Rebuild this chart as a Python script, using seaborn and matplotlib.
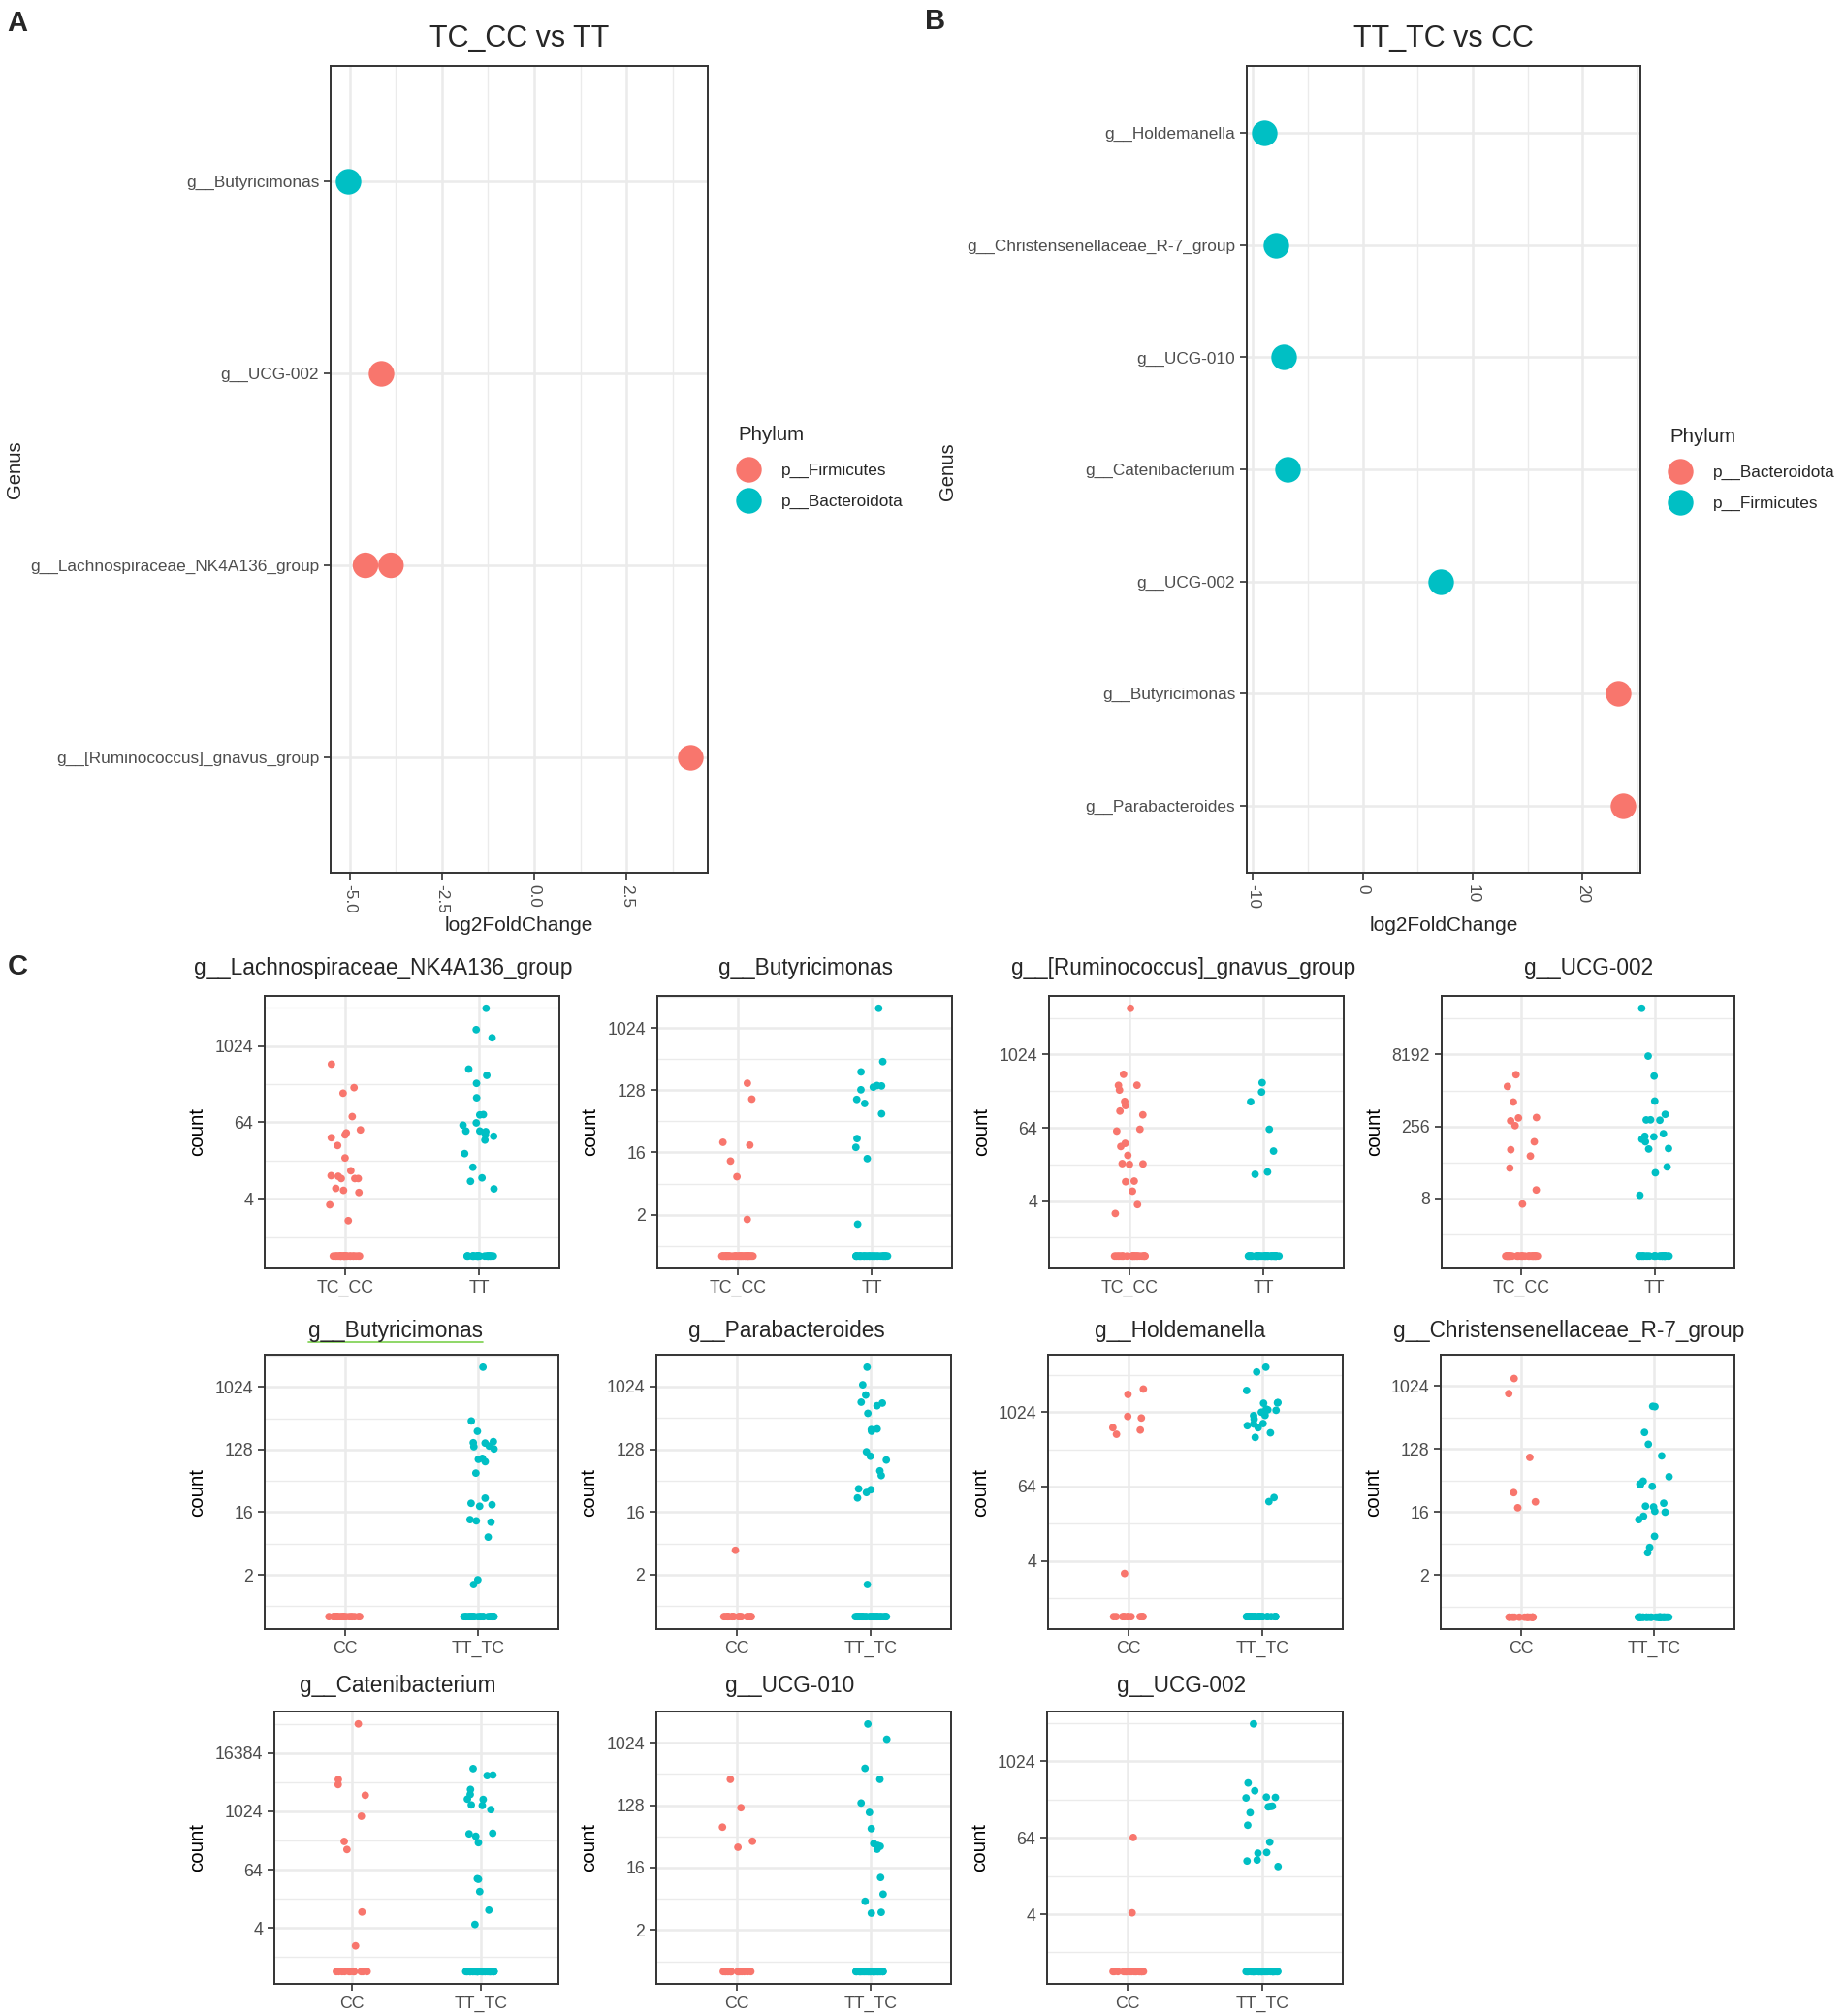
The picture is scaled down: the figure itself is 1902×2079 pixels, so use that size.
import numpy as np
import pandas as pd
import matplotlib
matplotlib.use('Agg')
import matplotlib.pyplot as plt
from matplotlib.lines import Line2D
import seaborn as sns

# ---------------- panel A / B : log2 fold change per genus
genus_a = ['g__Butyricimonas', 'g__UCG-002', 'g__Lachnospiraceae_NK4A136_group',
           'g__Lachnospiraceae_NK4A136_group', 'g__[Ruminococcus]_gnavus_group']
lfc_a = [-5.05, -4.15, -4.57, -3.88, 4.23]
phylum_a = ['p__Bacteroidota', 'p__Firmicutes', 'p__Firmicutes', 'p__Firmicutes', 'p__Firmicutes']
order_a = ['g__Butyricimonas', 'g__UCG-002', 'g__Lachnospiraceae_NK4A136_group',
           'g__[Ruminococcus]_gnavus_group']
legend_a = ['p__Firmicutes', 'p__Bacteroidota']
xticks_a = [-5.0, -2.5, 0.0, 2.5]
xticklabels_a = ['-5.0', '-2.5', '0.0', '2.5']

genus_b = ['g__Holdemanella', 'g__Christensenellaceae_R-7_group', 'g__UCG-010',
           'g__Catenibacterium', 'g__UCG-002', 'g__Butyricimonas', 'g__Parabacteroides']
lfc_b = [-8.94, -7.9, -7.2, -6.84, 7.1, 23.2, 23.64]
phylum_b = ['p__Firmicutes', 'p__Firmicutes', 'p__Firmicutes', 'p__Firmicutes',
            'p__Firmicutes', 'p__Bacteroidota', 'p__Bacteroidota']
legend_b = ['p__Bacteroidota', 'p__Firmicutes']
xticks_b = [-10, 0, 10, 20]
xticklabels_b = ['-10', '0', '10', '20']

# ---------------- panel C : normalised counts (non-zero samples), rest of group is 0
n_group = {'TC_CC': 45, 'TT': 45, 'CC': 20, 'TT_TC': 50}

lachno_tccc = [525, 224, 183, 78, 48, 43, 40, 36, 27, 17, 10.5, 7.8, 7.8, 8.7, 8.5, 7.8, 5.3, 4.9, 4.5, 2.7, 1.3]
lachno_tt = [4000, 1840, 1370, 440, 350, 262, 155, 84, 83, 62, 57, 46, 45, 46, 40, 38, 33, 20, 12, 8, 7, 5.2]

buty1_tccc = [162, 95, 22, 20, 11.5, 6.6, 1.2]
buty1_tt = [2000, 335, 237, 150, 148, 142, 130, 94, 82, 58, 25, 18.5, 12.5, 0.95]

rum_tccc = [5900, 484, 320, 318, 266, 173, 148, 120, 104, 60, 56, 35, 31, 22, 16, 15.5, 15.8, 7.8, 8, 5.3, 3, 2]
rum_tt = [352, 247, 171, 60, 26, 11.5, 10.5]

ucg1_tccc = [3100, 1760, 830, 393, 385, 335, 266, 122, 83, 61, 34, 11.5, 5.6]
ucg1_tt = [76000, 7600, 2900, 870, 458, 350, 345, 352, 180, 159, 155, 138, 122, 88, 86, 36, 27, 8.8]

buty2_cc = []
buty2_tttc = [1970, 330, 234, 166, 160, 158, 143, 140, 130, 95, 92, 85, 58, 25, 21, 20, 19, 12, 11.5, 11,
              6.5, 1.2, 0.95]

parab_cc = [4]
parab_tttc = [1940, 1080, 770, 608, 590, 540, 420, 250, 245, 232, 117, 101, 89, 62, 53, 34, 33, 30, 25, 0.95]

hold_cc = [2430, 1990, 875, 825, 575, 527, 450, 2]
hold_tttc = [5500, 4600, 2300, 1470, 1450, 1430, 1150, 1120, 1100, 1024, 910, 900, 790, 670, 660, 620,
             575, 475, 400, 42, 36]

chr_cc = [1320, 800, 97, 30, 22, 18]
chr_tttc = [526, 520, 222, 150, 102, 51, 44, 40, 39, 37, 21, 19, 18.5, 16, 15.5, 13.5, 12, 6.7, 4.5, 3.7]

cat_cc = [65500, 4650, 3660, 2200, 810, 244, 166, 8, 1.2]
cat_tttc = [7800, 5750, 5600, 2900, 2280, 1830, 1800, 1390, 1350, 1110, 360, 350, 312, 230, 41, 40, 22,
            8.8, 4.2]

u10_cc = [302, 117, 61, 38, 31]
u10_tttc = [1910, 1150, 436, 302, 137, 100, 58, 35, 33, 32, 29, 11, 6.1, 4.7, 3.1, 3.0]

u2_cc = [64, 3.7]
u2_tttc = [3950, 465, 350, 278, 275, 270, 200, 198, 195, 158, 100, 54, 37, 36, 28, 27, 22]

titles_c = ['g__Lachnospiraceae_NK4A136_group', 'g__Butyricimonas', 'g__[Ruminococcus]_gnavus_group',
            'g__UCG-002', 'g__Butyricimonas', 'g__Parabacteroides', 'g__Holdemanella',
            'g__Christensenellaceae_R-7_group', 'g__Catenibacterium', 'g__UCG-010', 'g__UCG-002']
groups_c = [['TC_CC', 'TT']] * 4 + [['CC', 'TT_TC']] * 7
values_c = [(lachno_tccc, lachno_tt), (buty1_tccc, buty1_tt), (rum_tccc, rum_tt), (ucg1_tccc, ucg1_tt),
            (buty2_cc, buty2_tttc), (parab_cc, parab_tttc), (hold_cc, hold_tttc), (chr_cc, chr_tttc),
            (cat_cc, cat_tttc), (u10_cc, u10_tttc), (u2_cc, u2_tttc)]
yticks_c = [[4, 64, 1024], [2, 16, 128, 1024], [4, 64, 1024], [8, 256, 8192],
            [2, 16, 128, 1024], [2, 16, 128, 1024], [4, 64, 1024], [2, 16, 128, 1024],
            [4, 64, 1024, 16384], [2, 16, 128, 1024], [4, 64, 1024]]

# ---------------- style / layout (pixels of a 1902 x 2079 canvas)
RED, TEAL = '#F8766D', '#00BFC4'
GRID, BORDER, TICKTXT = '#EBEBEB', '#333333', '#4D4D4D'
W, H = 1902, 2079

sns.set_theme(style='white')
plt.rcParams['font.family'] = ['Liberation Sans', 'DejaVu Sans']

fig = plt.figure(figsize=(W / 100, H / 100), dpi=100)


def add_ax(left, right, top, bottom):
    return fig.add_axes([left / W, 1 - bottom / H, (right - left) / W, (bottom - top) / H])


def frame(ax):
    for s in ax.spines.values():
        s.set_visible(True)
        s.set_color(BORDER)
        s.set_linewidth(1.4)
    ax.set_axisbelow(True)
    ax.grid(which='major', color=GRID, linewidth=1.8)
    ax.grid(which='minor', color=GRID, linewidth=1.0)
    ax.tick_params(which='major', length=5, width=1.2, color=BORDER, colors=TICKTXT,
                   bottom=True, left=True)
    ax.tick_params(which='minor', length=0)


def lfc_panel(box, genus, lfc, phylum, order, hue_order, xticks, xticklabels, minor, title, leg_xy):
    ax = add_ax(*box)
    df = pd.DataFrame({'Genus': genus, 'log2FoldChange': lfc, 'Phylum': phylum})
    sns.stripplot(data=df, x='log2FoldChange', y='Genus', hue='Phylum', order=order,
                  hue_order=hue_order, palette=[RED, TEAL], jitter=False, size=19,
                  linewidth=0, legend=False, ax=ax, zorder=3)
    lo, hi = min(lfc), max(lfc)
    pad = 0.05 * (hi - lo)
    ax.set_xlim(lo - pad, hi + pad)
    ax.set_ylim(len(order) - 1 + 0.6, -0.6)
    ax.set_xticks(xticks)
    ax.set_xticklabels(xticklabels, rotation=-90, fontsize=12.4)
    ax.set_xticks(minor, minor=True)
    ax.tick_params(axis='y', labelsize=12.4)
    frame(ax)
    ax.set_xlabel('')
    ax.set_ylabel('')
    cx = (box[0] + box[1]) / 2
    fig.text(cx / W, 1 - 40 / H, title, ha='center', va='center', fontsize=22)
    fig.text(cx / W, 1 - 954 / H, 'log2FoldChange', ha='center', va='center', fontsize=15)
    handles = [Line2D([], [], marker='o', linestyle='', markersize=19, markerfacecolor=c,
                      markeredgewidth=0) for c in (RED, TEAL)]
    leg = fig.legend(handles, hue_order, title='Phylum', loc='upper left',
                     bbox_to_anchor=(leg_xy[0] / W, 1 - leg_xy[1] / H), frameon=False,
                     fontsize=12.4, title_fontsize=14.8, labelspacing=1.0,
                     handletextpad=1.4, borderpad=0, handlelength=1.2)
    leg._legend_box.align = 'left'
    leg._legend_box.sep = 14.3
    return ax


lfc_panel((341, 730, 68, 900), genus_a, lfc_a, phylum_a, order_a, legend_a, xticks_a, xticklabels_a,
          [-3.75, -1.25, 1.25, 3.75], 'TC_CC vs TT', (753, 430))
lfc_panel((1286, 1692, 68, 900), genus_b, lfc_b, phylum_b, genus_b, legend_b, xticks_b, xticklabels_b,
          [-5, 5, 15, 25], 'TT_TC vs CC', (1714, 432))
fig.text(16 / W, 1 - 484 / H, 'Genus', rotation=90, ha='center', va='center', fontsize=14.6)
fig.text(977 / W, 1 - 486 / H, 'Genus', rotation=90, ha='center', va='center', fontsize=14.6)

for lab, (x, y) in zip('ABC', [(18, 24), (965, 22), (18, 997)]):
    fig.text(x / W, 1 - y / H, lab, ha='center', va='center', fontsize=21, fontweight='bold')

# ---------------- panel C boxes
rows = [(1027, 1308), (1397, 1680), (1765, 2046)]
cols = [[(273, 577), (678, 982), (1082, 1386), (1487, 1789)],
        [(273, 576), (677, 981), (1081, 1385), (1486, 1789)],
        [(283, 576), (677, 981), (1080, 1385)]]
title_pos = [(395, 999), (831, 999), (1221, 999), (1639, 999),
             (408, 1373), (811, 1373), (1217, 1373), (1618, 1373),
             (410, 1738), (815, 1738), (1219, 1738)]

np.random.seed(7)
k = 0
for r, (top, bottom) in enumerate(rows):
    for left, right in cols[r]:
        ax = add_ax(left, right, top, bottom)
        groups = groups_c[k]
        vals = []
        labs = []
        for g, v in zip(groups, values_c[k]):
            vv = list(v) + [0] * (n_group[g] - len(v))
            vals += vv
            labs += [g] * len(vv)
        df = pd.DataFrame({'group': labs, 'count': np.array(vals, dtype=float) + 0.5})
        sns.stripplot(data=df, x='group', y='count', hue='group', order=groups, hue_order=groups,
                      palette=[RED, TEAL], jitter=0.12, size=5.6, linewidth=0, legend=False,
                      ax=ax, zorder=3)
        ax.set_yscale('log', base=2)
        ly = np.log2(df['count'])
        pad = 0.05 * (ly.max() - ly.min())
        ax.set_ylim(2 ** (ly.min() - pad), 2 ** (ly.max() + pad))
        ax.set_xlim(-0.6, 1.6)
        ticks = yticks_c[k]
        lt = np.log2(ticks)
        step = lt[1] - lt[0]
        minor = 2 ** np.concatenate([lt - step / 2, [lt[-1] + step / 2]])
        ax.set_yticks(ticks)
        ax.set_yticklabels([str(t) for t in ticks])
        ax.set_yticks(minor, minor=True)
        ax.yaxis.set_minor_formatter(matplotlib.ticker.NullFormatter())
        frame(ax)
        ax.tick_params(labelsize=12.8)
        ax.set_xlabel('')
        ax.set_ylabel('count', fontsize=14.7, labelpad=6, color='black')
        tx, ty = title_pos[k]
        fig.text(tx / W, 1 - ty / H, titles_c[k], ha='center', va='center', fontsize=16.3)
        k += 1

# green underline under the second Butyricimonas title (as in source image)
fig.add_artist(Line2D([318 / W, 498 / W], [1 - 1384 / H, 1 - 1384 / H], color='#7CD14E', linewidth=1.2))

fig.savefig('out.png', dpi=100, facecolor='white')
